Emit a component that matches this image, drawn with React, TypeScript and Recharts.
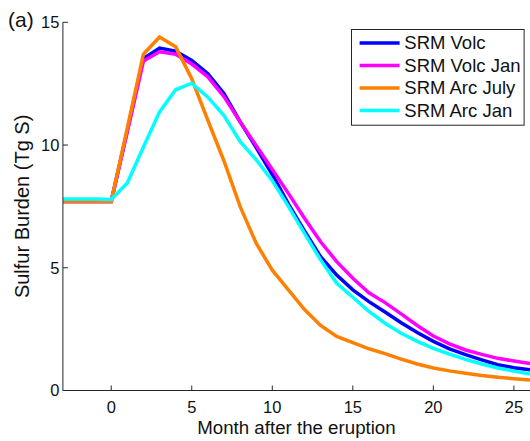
import React from 'react';
import { LineChart, Line, XAxis, YAxis, Legend } from 'recharts';

// Months relative to the eruption
const months = [-3, -2, -1, 0, 1, 2, 3, 4, 5, 6, 7, 8, 9, 10, 11, 12, 13, 14, 15, 16, 17, 18, 19, 20, 21, 22, 23, 24, 25, 26];

// Sulfur burden (Tg S) for each experiment
const srmVolc = [7.7, 7.7, 7.7, 7.7, 10.6, 13.52, 13.95, 13.82, 13.45, 12.9, 12.1, 10.95, 9.9, 8.8, 7.6, 6.5, 5.45, 4.7, 4.1, 3.62, 3.2, 2.76, 2.36, 2.0, 1.7, 1.46, 1.25, 1.05, 0.93, 0.84];
const srmVolcJan = [7.7, 7.7, 7.7, 7.7, 10.55, 13.42, 13.8, 13.7, 13.3, 12.78, 11.97, 10.95, 9.98, 9.0, 8.03, 7.02, 6.06, 5.25, 4.57, 3.98, 3.58, 3.12, 2.65, 2.22, 1.9, 1.65, 1.47, 1.31, 1.2, 1.1];
const srmArcJuly = [7.7, 7.7, 7.7, 7.7, 10.7, 13.7, 14.4, 14.0, 12.7, 11.0, 9.35, 7.5, 6.0, 4.9, 4.1, 3.3, 2.65, 2.2, 1.95, 1.7, 1.5, 1.28, 1.08, 0.92, 0.8, 0.7, 0.61, 0.54, 0.48, 0.43];
const srmArcJan = [7.8, 7.8, 7.8, 7.78, 8.45, 9.92, 11.35, 12.25, 12.52, 11.95, 11.2, 10.15, 9.4, 8.55, 7.5, 6.4, 5.32, 4.37, 3.8, 3.22, 2.74, 2.33, 2.0, 1.72, 1.48, 1.27, 1.08, 0.92, 0.79, 0.67];

const seriesNames = ['SRM Volc', 'SRM Volc Jan', 'SRM Arc July', 'SRM Arc Jan'];
const xTicks = [0, 5, 10, 15, 20, 25];
const yTicks = [0, 5, 10, 15];

const data = months.map((m, i) => ({
  month: m,
  volc: srmVolc[i],
  volcJan: srmVolcJan[i],
  arcJuly: srmArcJuly[i],
  arcJan: srmArcJan[i],
}));

const FONT = '"Liberation Sans", Arial, Helvetica, sans-serif';
const AXIS = '#262626';
const TICK_LEN = 5;

const BottomTick = (props: any) => {
  const { x, y, payload } = props;
  return (
    <g>
      <line x1={x} y1={y} x2={x} y2={y - TICK_LEN} stroke={AXIS} strokeWidth={1} />
      <text x={x} y={y + 22.8} textAnchor="middle" fontFamily={FONT} fontSize={16.5} fill="#111">
        {payload.value}
      </text>
    </g>
  );
};

const TopTick = (props: any) => {
  const { x, y } = props;
  return <line x1={x} y1={y} x2={x} y2={y + TICK_LEN} stroke={AXIS} strokeWidth={1} />;
};

const LeftTick = (props: any) => {
  const { x, y, payload } = props;
  return (
    <g>
      <line x1={x} y1={y} x2={x + TICK_LEN} y2={y} stroke={AXIS} strokeWidth={1} />
      <text x={x - 3.5} y={y + 5.9} textAnchor="end" fontFamily={FONT} fontSize={16.5} fill="#111">
        {payload.value}
      </text>
    </g>
  );
};

const LegendBox = (props: any) => {
  const items = [...(props.payload || [])].sort(
    (a: any, b: any) => seriesNames.indexOf(a.value) - seriesNames.indexOf(b.value)
  );
  return (
    <svg width={174} height={97} style={{ display: 'block' }}>
      <rect x={0.5} y={0.5} width={172.6} height={95.7} fill="#fff" stroke={AXIS} strokeWidth={1} />
      {items.map((it: any, i: number) => {
        const cy = 14 + i * 22.5;
        return (
          <g key={it.value}>
            <line x1={8.6} y1={cy} x2={48.6} y2={cy} stroke={it.color} strokeWidth={3.5} />
            <text x={53.3} y={cy + 6.4} fontFamily={FONT} fontSize={18.5} fill="#111">
              {it.value}
            </text>
          </g>
        );
      })}
    </svg>
  );
};

export default function App() {
  return (
    <div style={{ position: 'absolute', left: 0, top: 0, width: 530, height: 441, background: '#fff' }}>
      <LineChart width={530} height={441} data={data} margin={{ top: 22.3, right: 0, bottom: 0, left: 0 }}>
        <XAxis
          dataKey="month"
          type="number"
          domain={[-3, 26]}
          allowDataOverflow
          ticks={xTicks}
          height={50.5}
          tickSize={0}
          tickMargin={0}
          tick={<BottomTick />}
          axisLine={{ stroke: AXIS, strokeWidth: 1 }}
          label={{ value: 'Month after the eruption', position: 'insideBottom', offset: 7, fontFamily: FONT, fontSize: 18.7, fill: '#111' }}
        />
        <XAxis
          xAxisId="top"
          orientation="top"
          dataKey="month"
          type="number"
          domain={[-3, 26]}
          allowDataOverflow
          ticks={xTicks}
          height={0}
          tickSize={0}
          tickMargin={0}
          tick={<TopTick />}
          axisLine={{ stroke: AXIS, strokeWidth: 1 }}
        />
        <YAxis
          type="number"
          domain={[0, 15]}
          ticks={yTicks}
          width={62.9}
          tickSize={0}
          tickMargin={0}
          tick={<LeftTick />}
          axisLine={{ stroke: AXIS, strokeWidth: 1 }}
          label={{ value: 'Sulfur Burden (Tg S)', angle: -90, position: 'insideLeft', offset: 22, fontFamily: FONT, fontSize: 20, fill: '#111', style: { textAnchor: 'middle' } }}
        />
        <Legend
          layout="horizontal"
          verticalAlign="middle"
          align="center"
          content={<LegendBox />}
          wrapperStyle={{ position: 'absolute', left: 350.7, top: 29.3, width: 174, height: 97 }}
        />
        <Line type="linear" dataKey="volc" name={seriesNames[0]} stroke="#0000FF" strokeWidth={3.5} dot={false} isAnimationActive={false} />
        <Line type="linear" dataKey="volcJan" name={seriesNames[1]} stroke="#FF00FF" strokeWidth={3.5} dot={false} isAnimationActive={false} />
        <Line type="linear" dataKey="arcJuly" name={seriesNames[2]} stroke="#FF8000" strokeWidth={3.5} dot={false} isAnimationActive={false} />
        <Line type="linear" dataKey="arcJan" name={seriesNames[3]} stroke="#00FFFF" strokeWidth={3.5} dot={false} isAnimationActive={false} />
      </LineChart>
      <div style={{ position: 'absolute', left: 8, top: 6, fontFamily: FONT, fontSize: 21, color: '#111', lineHeight: '28px' }}>(a)</div>
    </div>
  );
}
